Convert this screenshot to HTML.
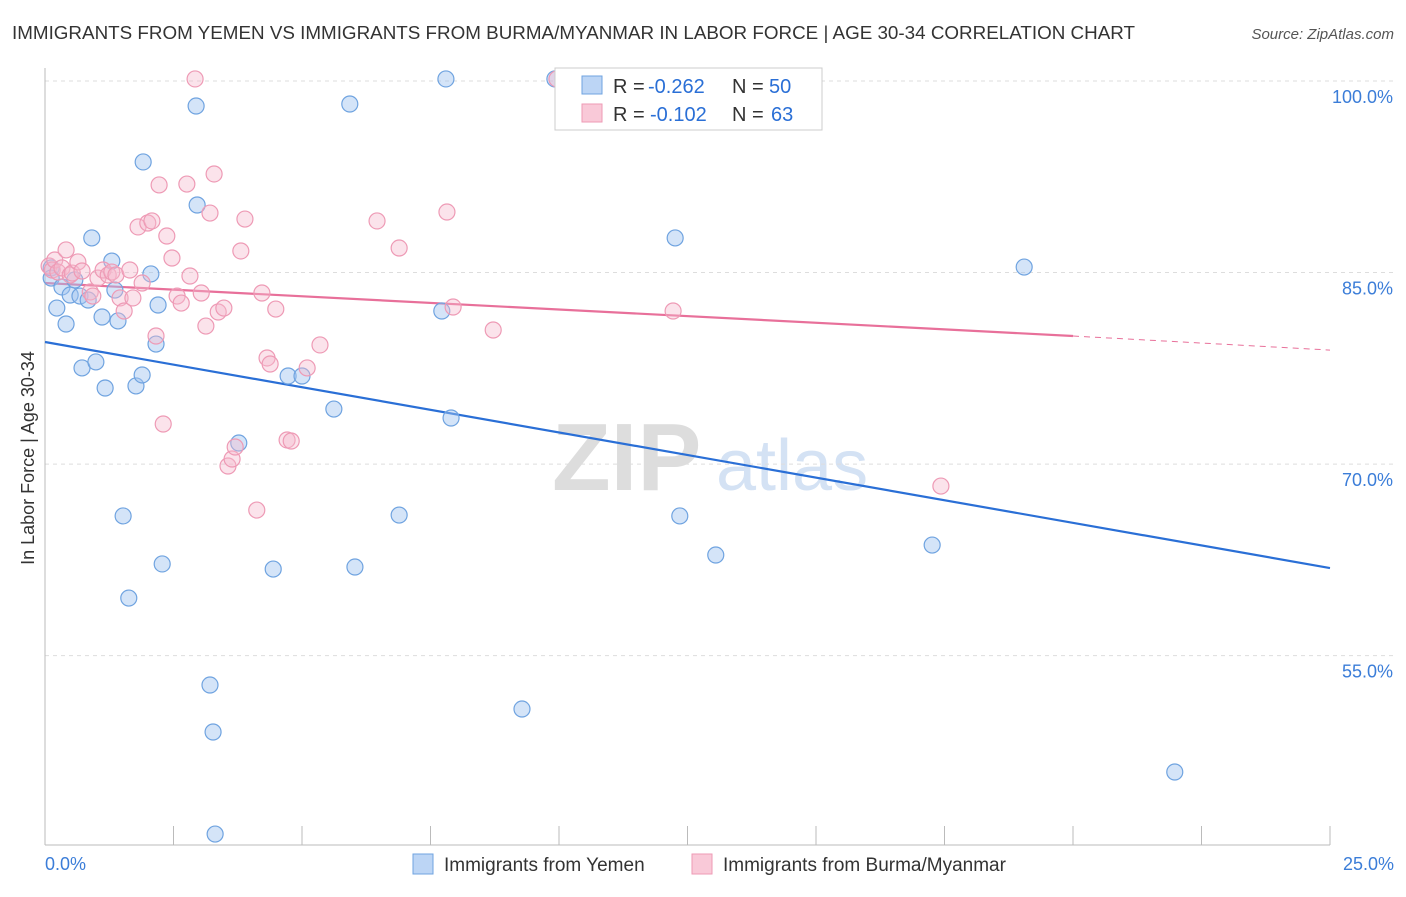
<!DOCTYPE html>
<html><head><meta charset="utf-8"><style>
body{margin:0;background:#fff;font-family:"Liberation Sans",sans-serif;}
svg text{font-family:"Liberation Sans",sans-serif;}
</style></head><body>
<svg id="chart" width="1406" height="892" xmlns="http://www.w3.org/2000/svg">
<text x="12" y="39" font-size="18" fill="#333" textLength="1123" lengthAdjust="spacingAndGlyphs">IMMIGRANTS FROM YEMEN VS IMMIGRANTS FROM BURMA/MYANMAR IN LABOR FORCE | AGE 30-34 CORRELATION CHART</text>
<text x="1394" y="39" font-size="15" fill="#555" font-style="italic" text-anchor="end">Source: ZipAtlas.com</text>
<text x="552" y="490" font-size="96" fill="#ddd" font-family="Liberation Serif" font-weight="bold">ZIP</text>
<text x="716" y="490" font-size="72" fill="#d4e2f4">atlas</text>
<text transform="translate(34,458) rotate(-90)" font-size="18" fill="#333" text-anchor="middle">In Labor Force | Age 30-34</text>
<g id="grid"></g><g id="axes"></g><g id="lines"></g><g id="points"></g>
<g>
<rect x="555" y="68" width="267" height="62" fill="#fff" stroke="#ccc"/>
<rect x="582" y="76" width="20" height="18" fill="#bcd5f5" stroke="#6fa3e0"/>
<rect x="582" y="104" width="20" height="18" fill="#f9c9d8" stroke="#ee9ab5"/>
<text x="613" y="93" font-size="20" fill="#333">R =</text>
<text x="648" y="93" font-size="20" fill="#2a6fd6">-0.262</text>
<text x="732" y="93" font-size="20" fill="#333">N =</text>
<text x="769" y="93" font-size="20" fill="#2a6fd6">50</text>
<text x="613" y="121" font-size="20" fill="#333">R =</text>
<text x="650" y="121" font-size="20" fill="#2a6fd6">-0.102</text>
<text x="732" y="121" font-size="20" fill="#333">N =</text>
<text x="771" y="121" font-size="20" fill="#2a6fd6">63</text>
</g>
<g>
<rect x="413" y="854" width="20" height="20" fill="#bcd5f5" stroke="#6fa3e0"/>
<text x="444" y="871" font-size="19" fill="#333">Immigrants from Yemen</text>
<rect x="692" y="854" width="20" height="20" fill="#f9c9d8" stroke="#ee9ab5"/>
<text x="723" y="871" font-size="19" fill="#333">Immigrants from Burma/Myanmar</text>
</g>
</svg>
<script>
const yTicks=[100,85,70,55];
const yTickLabels=["100.0%","85.0%","70.0%","55.0%"];
const xEndLabels=["0.0%","25.0%"];
const blueX=[0.12,0.12,0.23,0.33,0.41,0.49,0.58,0.68,0.72,0.84,0.91,0.99,1.11,1.17,1.30,1.36,1.42,1.52,1.63,1.77,1.89,1.91,2.06,2.16,2.20,2.28,2.94,2.96,3.21,3.27,3.31,3.77,4.44,4.73,5.00,5.62,5.93,6.03,6.89,7.72,7.80,7.90,9.28,9.92,12.26,12.35,13.05,17.26,19.05,21.98];
const blueY=[85.36,84.57,82.22,83.87,80.97,83.24,84.42,83.16,77.53,82.85,87.71,78.00,81.52,75.96,85.90,83.63,81.21,65.94,59.51,76.12,76.98,93.66,84.89,79.40,82.46,62.18,98.04,90.29,52.70,49.02,41.03,71.65,61.78,76.90,76.90,74.31,98.20,61.94,66.01,81.99,100.16,73.61,50.82,100.16,87.71,65.94,62.88,63.66,85.43,45.89];
const pinkX=[0.08,0.14,0.19,0.25,0.33,0.41,0.49,0.53,0.64,0.72,0.88,0.93,1.03,1.13,1.23,1.30,1.38,1.46,1.54,1.65,1.71,1.81,1.89,2.00,2.08,2.16,2.22,2.30,2.37,2.47,2.57,2.65,2.76,2.82,2.92,3.04,3.13,3.21,3.29,3.37,3.48,3.56,3.64,3.70,3.81,3.89,4.12,4.22,4.32,4.38,4.49,4.71,4.79,5.10,5.35,6.46,6.89,7.82,7.94,8.72,9.96,12.22,17.43];
const pinkY=[85.51,85.20,85.98,85.04,85.36,86.77,84.81,84.96,85.83,85.12,83.48,83.16,84.57,85.20,84.81,85.04,84.81,83.01,81.99,85.20,83.01,88.57,84.18,88.88,89.04,80.03,91.86,73.14,87.86,86.14,83.16,82.61,91.93,84.73,100.16,83.40,80.81,89.66,92.72,81.91,82.22,69.85,70.40,71.34,86.69,89.19,66.40,83.40,78.31,77.84,82.14,71.89,71.81,77.53,79.33,89.04,86.92,89.74,82.30,80.50,100.16,81.99,68.28];
const blueTrend=[[0,79.56],[25,61.86]];
const pinkTrendSolid=[[0,84.18],[20,80.03]];
const pinkTrendDash=[[20,80.03],[25,78.93]];

const NS="http://www.w3.org/2000/svg";
const X0=45,X1=1330;
function sx(v){return X0+(v/25)*(X1-X0);}
function sy(v){return 81+(100-v)*12.77;}
function mk(tag,attrs,parent){const e=document.createElementNS(NS,tag);for(const k in attrs)e.setAttribute(k,attrs[k]);document.getElementById(parent).appendChild(e);return e;}

yTicks.forEach((t,i)=>{
  const g=mk('line',{x1:X0,x2:1394,y1:sy(t),y2:sy(t),stroke:'#ddd','stroke-dasharray':'4,4'},'grid');
  
  
  const l=mk('text',{x:1393,y:sy(t)+22,'font-size':18,fill:'#3b7dd8','text-anchor':'end'},'axes');
  l.textContent=yTickLabels[i];
  
  
});
const ax=mk('line',{x1:X0,x2:X1,y1:845,y2:845,stroke:'#bbb'},'axes');


const ay=mk('line',{x1:X0,x2:X0,y1:68,y2:845,stroke:'#bbb'},'axes');


for(let i=0;i<=10;i++){
  const t=mk('line',{x1:sx(i*2.5),x2:sx(i*2.5),y1:826,y2:845,stroke:'#bbb'},'axes');
  
  
}
[0,25].forEach((v,i)=>{
  const l=mk('text',{x:i?1394:45,y:870,'font-size':18,fill:'#3b7dd8','text-anchor':i?'end':'start'},'axes');
  l.textContent=xEndLabels[i];
  
  
});
function trend(p,color,dash,name){
  const l=mk('line',{x1:sx(p[0][0]),y1:sy(p[0][1]),x2:sx(p[1][0]),y2:sy(p[1][1]),stroke:color,'stroke-width':dash?1:2.2,'stroke-dasharray':dash?'6,5':'none'},'lines');
  
  
}
trend(blueTrend,'#2a6fd6',false,'yemen-trend-line');
trend(pinkTrendSolid,'#e8709a',false,'burma-trend-line');
trend(pinkTrendDash,'#e8709a',true,'burma-trend-extension');
blueX.forEach((x,i)=>{
  const c=mk('circle',{cx:sx(x),cy:sy(blueY[i]),r:8,fill:'rgba(160,196,240,0.45)',stroke:'#6fa3e0','stroke-width':1.2},'points');
  
  
});
pinkX.forEach((x,i)=>{
  const c=mk('circle',{cx:sx(x),cy:sy(pinkY[i]),r:8,fill:'rgba(246,184,204,0.4)',stroke:'#ee9ab5','stroke-width':1.2},'points');
  
  
});
</script>
</body></html>
